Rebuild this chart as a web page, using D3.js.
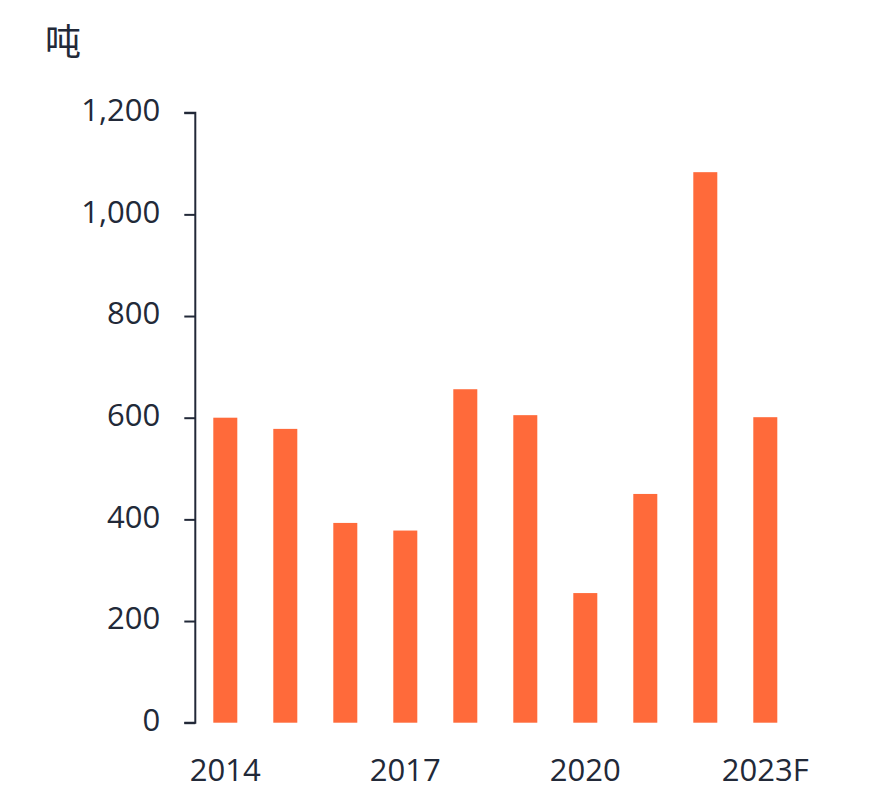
<!DOCTYPE html>
<html>
<head>
<meta charset="utf-8">
<script src="https://cdn.jsdelivr.net/npm/d3@7"></script>
<style>
  body { margin: 0; background: #fff; }
  text { font-family: "Open Sans", sans-serif; fill: #222938; }
</style>
</head>
<body>
<div id="chart"></div>
<script>
// tonnes per year
var years = ["2014", "2015", "2016", "2017", "2018", "2019", "2020", "2021", "2022", "2023F"];
var tonnes = [600, 578, 393, 378, 656, 605, 255, 450, 1083, 601];
var yTicks = [0, 200, 400, 600, 800, 1000, 1200];
var xLabels = ["2014", "2017", "2020", "2023F"];

var width = 880, height = 807;

var svg = d3.select("#chart").append("svg")
    .attr("width", width).attr("height", height);

var x = d3.scaleBand()
    .domain(years)
    .range([195.3, 795.3])
    .paddingInner(0.6)
    .paddingOuter(0.3);

var y = d3.scaleLinear()
    .domain([0, 1200])
    .range([722.7, 112.7]);

// unit label
svg.append("text")
    .attr("x", 45)
    .attr("y", 55)
    .style("font-family", "'Noto Sans CJK SC', sans-serif")
    .attr("font-size", 36)
    .text("吨");

// y axis
var yAxis = svg.append("g")
    .attr("transform", "translate(195.3,0)")
    .call(d3.axisLeft(y).tickValues(yTicks).tickSize(11).tickPadding(24)
        .tickFormat(d3.format(",")));
yAxis.selectAll("path, line").attr("stroke", "#222938").attr("stroke-width", 2);
yAxis.select(".domain").attr("d", "M-11,112.7H0V722.7H-11");
yAxis.selectAll("text")
    .attr("font-size", 31)
    .attr("fill", "#222938")
    .style("font-family", "'Open Sans', sans-serif")
    .attr("dy", "0.25em");

// bars
svg.selectAll(".bar").data(tonnes).enter()
    .append("rect")
    .attr("class", "bar")
    .attr("x", function(d, i) { return x(years[i]); })
    .attr("y", function(d) { return y(d); })
    .attr("width", x.bandwidth())
    .attr("height", function(d) { return y(0) - y(d); })
    .attr("fill", "#ff6a3a");

// x labels, only every third year
svg.selectAll(".xlab").data(xLabels).enter()
    .append("text")
    .attr("class", "xlab")
    .attr("text-anchor", "middle")
    .attr("font-size", 31)
    .attr("x", function(d) { return x(d) + x.bandwidth() / 2; })
    .attr("y", 781)
    .text(function(d) { return d; });
</script>
</body>
</html>
